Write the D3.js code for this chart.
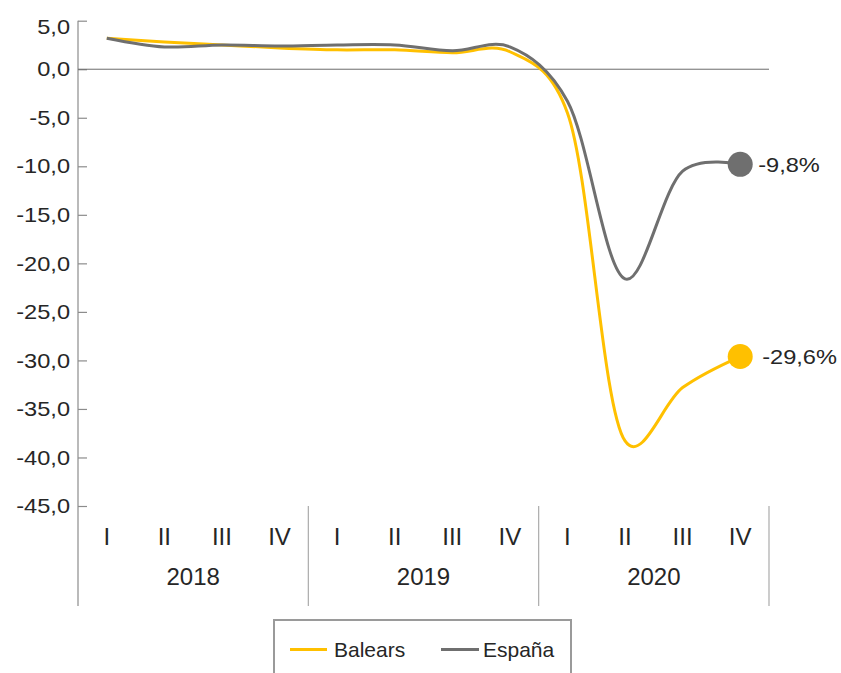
<!DOCTYPE html>
<html>
<head>
<meta charset="utf-8">
<script src="https://cdn.jsdelivr.net/npm/d3@7"></script>
<style>
  html, body { margin: 0; padding: 0; background: #fff; }
  svg { display: block; font-family: "Liberation Sans", Arial, sans-serif; }
</style>
</head>
<body>
<svg id="chart" width="841" height="673"></svg>
<script>
// Quarterly series, 2018–2020 (% year-on-year)
const years = ["2018", "2019", "2020"];
const quarters = ["I", "II", "III", "IV"];
const balears = [3.2, 2.8, 2.5, 2.2, 2.0, 2.0, 1.7, 1.8, -4.5, -38.3, -32.8, -29.6];
const espana  = [3.2, 2.3, 2.5, 2.4, 2.5, 2.5, 1.9, 2.3, -3.3, -21.6, -10.5, -9.8];
const yTicks = [5, 0, -5, -10, -15, -20, -25, -30, -35, -40, -45];
const seriesNames = ["Balears", "España"];
const colors = { Balears: "#FFC000", "España": "#6F6F6F" };

const locale = d3.formatLocale({ decimal: ",", thousands: ".", grouping: [3], currency: ["", " €"], minus: "-" });
const fmt = locale.format(".1f");

const svg = d3.select("#chart");
const plotLeft = 78, plotRight = 769, plotTop = 20.7, plotBottom = 506, axisBottom = 606;

const slots = d3.range(years.length * quarters.length);
const x = d3.scalePoint().domain(slots).range([plotLeft, plotRight]).padding(0.5);
const step = x.step();
const y = d3.scaleLinear().domain([-45, 5]).range([plotBottom, plotTop]);

// Y axis: line plus inward ticks
svg.append("line")
  .attr("x1", plotLeft).attr("x2", plotLeft).attr("y1", plotTop).attr("y2", axisBottom)
  .attr("stroke", "#8c8c8c").attr("stroke-width", 1.2);

const yAxis = d3.axisRight(y).tickValues(yTicks).tickSize(9).tickFormat("");
const gy = svg.append("g").attr("transform", `translate(${plotLeft},0)`).call(yAxis);
gy.select(".domain").remove();
gy.selectAll(".tick line").attr("stroke", "#8c8c8c").attr("stroke-width", 1.2);

svg.append("g").selectAll("text")
  .data(yTicks)
  .join("text")
  .attr("transform", d => `translate(70,${Math.max(y(d), 26.5)}) scale(1.18,1)`)
  .attr("text-anchor", "end")
  .attr("dy", "0.36em")
  .attr("font-size", 20)
  .attr("fill", "#262626")
  .text(d => fmt(d));

// Zero reference line
svg.append("line")
  .attr("x1", plotLeft).attr("x2", plotRight).attr("y1", y(0)).attr("y2", y(0))
  .attr("stroke", "#6b6b6b").attr("stroke-width", 1);

// Category axis: quarter labels, year labels and group separators
svg.append("g").selectAll("text")
  .data(slots)
  .join("text")
  .attr("x", d => x(d))
  .attr("y", 545)
  .attr("text-anchor", "middle")
  .attr("font-size", 24)
  .attr("fill", "#262626")
  .text(d => quarters[d % quarters.length]);

svg.append("g").selectAll("text")
  .data(years)
  .join("text")
  .attr("x", (d, i) => (x(i * 4) + x(i * 4 + 3)) / 2)
  .attr("y", 585)
  .attr("text-anchor", "middle")
  .attr("font-size", 24)
  .attr("fill", "#262626")
  .text(d => d);

svg.append("g").selectAll("line")
  .data(years)
  .join("line")
  .attr("x1", (d, i) => x(i * 4 + 3) + step / 2)
  .attr("x2", (d, i) => x(i * 4 + 3) + step / 2)
  .attr("y1", plotBottom)
  .attr("y2", axisBottom)
  .attr("stroke", "#ababab").attr("stroke-width", 1.2);

// Smoothed series lines
const line = d3.line()
  .x((d, i) => x(i))
  .y(d => y(d))
  .curve(d3.curveCatmullRom.alpha(0.2));

const seriesData = { Balears: balears, "España": espana };
seriesNames.forEach(name => {
  svg.append("path")
    .datum(seriesData[name])
    .attr("fill", "none")
    .attr("stroke", colors[name])
    .attr("stroke-width", 3)
    .attr("stroke-linejoin", "round")
    .attr("d", line);
});

// End markers with value labels
const labelDx = { Balears: 22, "España": 18 };
seriesNames.forEach(name => {
  const vals = seriesData[name];
  const last = vals.length - 1;
  svg.append("circle")
    .attr("cx", x(last)).attr("cy", y(vals[last])).attr("r", 12.5)
    .attr("fill", colors[name]);
  svg.append("text")
    .attr("transform", `translate(${x(last) + labelDx[name]},${y(vals[last]) + 7.5}) scale(1.18,1)`)
    .attr("font-size", 20)
    .attr("fill", "#262626")
    .text(fmt(vals[last]) + "%");
});

// Legend
const lg = svg.append("g");
lg.append("rect")
  .attr("x", 274).attr("y", 620).attr("width", 297).attr("height", 70)
  .attr("fill", "#fff").attr("stroke", "#9a9a9a").attr("stroke-width", 2);
const legendItems = [
  { name: "Balears", x1: 290, x2: 327, tx: 334 },
  { name: "España", x1: 441, x2: 479, tx: 483 }
];
legendItems.forEach(it => {
  lg.append("line")
    .attr("x1", it.x1).attr("x2", it.x2).attr("y1", 649.5).attr("y2", 649.5)
    .attr("stroke", colors[it.name]).attr("stroke-width", 3);
  lg.append("text")
    .attr("x", it.tx).attr("y", 656.5)
    .attr("font-size", 21)
    .attr("fill", "#262626")
    .text(it.name);
});
</script>
</body>
</html>
